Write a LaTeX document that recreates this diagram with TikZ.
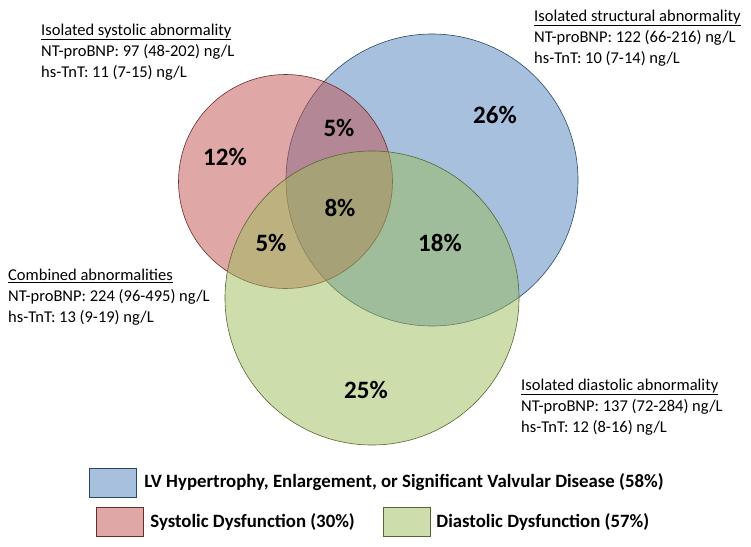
\documentclass[tikz,border=0pt]{standalone}
\usepackage{fontspec}
\setmainfont{Carlito}
\usetikzlibrary{positioning}
\definecolor{lvblue}{RGB}{79,129,189}
\definecolor{sysred}{RGB}{192,80,77}
\definecolor{diagreen}{RGB}{155,187,89}

\begin{document}
\begin{tikzpicture}[x=1pt, y=-1pt,
  venn/.style={circle, draw=#1!55!black, fill=#1, fill opacity=0.5, draw opacity=1, line width=0.6pt, inner sep=0pt},
  pct/.style={font=\fontsize{25}{28}\selectfont\bfseries},
  note/.style={align=left, inner sep=0pt, anchor=west, font=\fontsize{16.5}{21}\selectfont},
  keybox/.style={draw=#1!55!black, fill=#1!50, minimum width=47pt, minimum height=29pt, inner sep=0pt},
  keytext/.style={font=\fontsize{18.8}{22}\selectfont\bfseries, inner sep=0pt}]
  \useasboundingbox (0,0) rectangle (751,546);
  % the three sets
  \node[venn=lvblue, minimum size=292pt] (lv) at (432,180) {};
  \node[venn=sysred, minimum size=214pt] (sys) at (285.5,181.5) {};
  \node[venn=diagreen, minimum size=294pt] (dia) at (372,298) {};
  % region shares
  \node[pct] (p12) at (225,157) {12\%};
  \node[pct] (p5a) at (339,128) {5\%};
  \node[pct] (p26) at (495,115) {26\%};
  \node[pct] (p8) at (340,208) {8\%};
  \node[pct] (p5b) at (271,243) {5\%};
  \node[pct] (p18) at (440,243) {18\%};
  \node[pct] (p25) at (366,390) {25\%};
  % biomarker notes
  \node[note] (sysnote) at (41,52) {\underline{Isolated systolic abnormality}\\NT-proBNP: 97 (48-202) ng/L\\hs-TnT: 11 (7-15) ng/L};
  \node[note] (lvnote) at (534,38) {\underline{Isolated structural abnormality}\\NT-proBNP: 122 (66-216) ng/L\\hs-TnT: 10 (7-14) ng/L};
  \node[note] (allnote) at (8,297) {\underline{Combined abnormalities}\\NT-proBNP: 224 (96-495) ng/L\\hs-TnT: 13 (9-19) ng/L};
  \node[note] (dianote) at (521,407) {\underline{Isolated diastolic abnormality}\\NT-proBNP: 137 (72-284) ng/L\\hs-TnT: 12 (8-16) ng/L};
  % legend
  \node[keybox=lvblue] (lvkey) at (112.5,482.5) {};
  \node[keytext, right=8pt of lvkey] (lvlab) {LV Hypertrophy, Enlargement, or Significant Valvular Disease (58\%)};
  \node[keybox=sysred] (syskey) at (119.5,521.5) {};
  \node[keytext, right=7pt of syskey] (syslab) {Systolic Dysfunction (30\%)};
  \node[keybox=diagreen] (diakey) at (406.5,521.5) {};
  \node[keytext, right=6pt of diakey] (dialab) {Diastolic Dysfunction (57\%)};
\end{tikzpicture}
\end{document}
